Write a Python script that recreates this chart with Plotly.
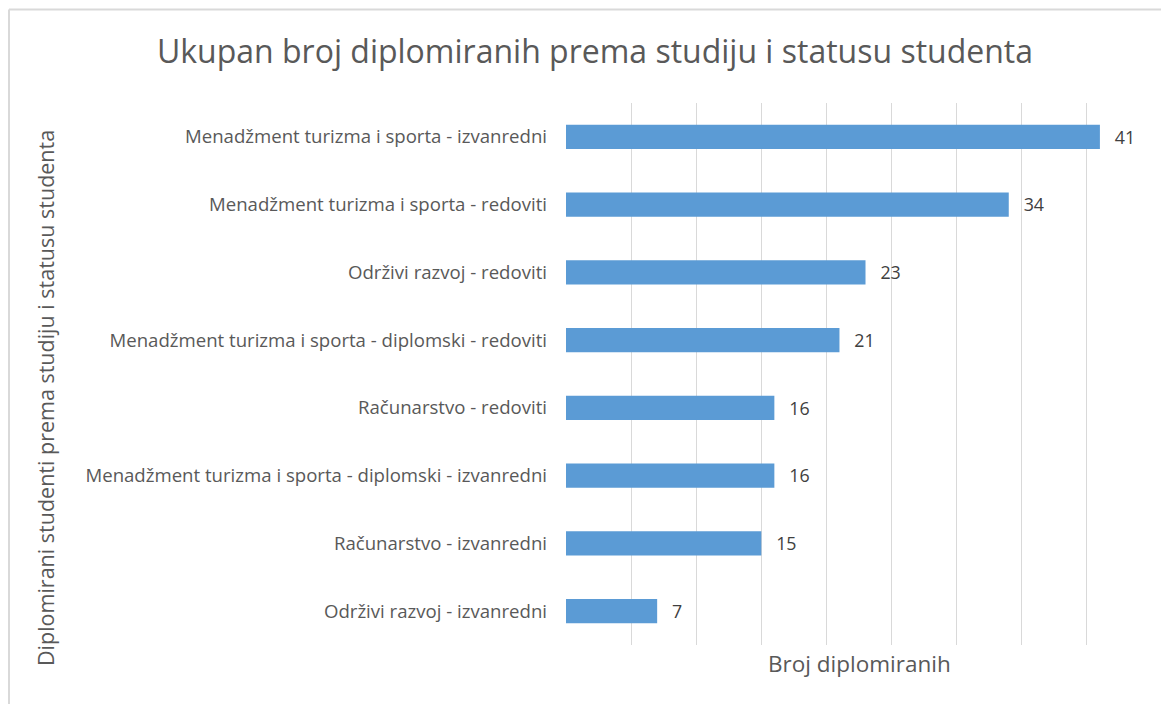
import plotly.graph_objects as go

categories = [
    "Menadžment turizma i sporta - izvanredni",
    "Menadžment turizma i sporta - redoviti",
    "Održivi razvoj - redoviti",
    "Menadžment turizma i sporta - diplomski - redoviti",
    "Računarstvo - redoviti",
    "Menadžment turizma i sporta - diplomski - izvanredni",
    "Računarstvo - izvanredni",
    "Održivi razvoj - izvanredni",
]
values = [41, 34, 23, 21, 16, 16, 15, 7]

FONT = "Open Sans"
W, H = 1161, 696
L, R, T, B = 558, 17, 95, 59
PW, PH = W - L - R, H - T - B

fig = go.Figure(go.Bar(
    x=values,
    y=categories,
    orientation="h",
    marker=dict(color="#5B9BD5", line=dict(width=0)),
    text=["\u2002\u2009" + str(v) for v in values],
    textposition="outside",
    textfont=dict(family=FONT, size=20, color="#404040"),
    cliponaxis=False,
    hoverinfo="x+y",
))

fig.update_layout(
    width=W, height=H,
    paper_bgcolor="white", plot_bgcolor="white",
    margin=dict(l=L, r=R, t=T, b=B, autoexpand=False),
    bargap=0.645,
    showlegend=False,
    title=dict(
        text="Ukupan broj diplomiranih prema studiju i statusu studenta",
        x=587 / W, xanchor="center", y=1 - 44 / H, yanchor="middle",
        font=dict(family=FONT, size=32, color="#595959"),
    ),
    xaxis=dict(
        range=[0, 45], dtick=5, showticklabels=False,
        showgrid=True, gridcolor="#D9D9D9", gridwidth=1,
        zeroline=False, showline=False, ticks="",
    ),
    yaxis=dict(
        autorange="reversed", showgrid=False, zeroline=False, showline=False,
        ticks="", ticklabelstandoff=18,
        tickfont=dict(family=FONT, size=18.6, color="#595959"),
    ),
    shapes=[
        dict(type="line", xref="paper", yref="paper",
             x0=-(L - 1) / PW, x1=-(L - 1) / PW, y0=-(B + 5) / PH, y1=1 + (T - 1.5) / PH,
             line=dict(color="#D9D9D9", width=2)),
        dict(type="line", xref="paper", yref="paper",
             x0=-(L - 1) / PW, x1=1 + (R + 5) / PW, y0=1 + (T - 1.5) / PH, y1=1 + (T - 1.5) / PH,
             line=dict(color="#D9D9D9", width=2)),
    ],
    annotations=[
        dict(
            text="Diplomirani studenti prema studiju i statusu studenta",
            xref="paper", yref="paper", x=-(L - 37) / PW, y=(637 - 390) / PH,
            xanchor="center", yanchor="middle", textangle=-90, showarrow=False,
            font=dict(family=FONT, size=21.5, color="#595959"),
        ),
        dict(
            text="Broj diplomiranih",
            xref="paper", yref="paper", x=0.5, y=-(655 - 637) / PH,
            xanchor="center", yanchor="middle", showarrow=False,
            font=dict(family=FONT, size=22.5, color="#595959"),
        ),
    ],
)

fig.write_html("out.html")
